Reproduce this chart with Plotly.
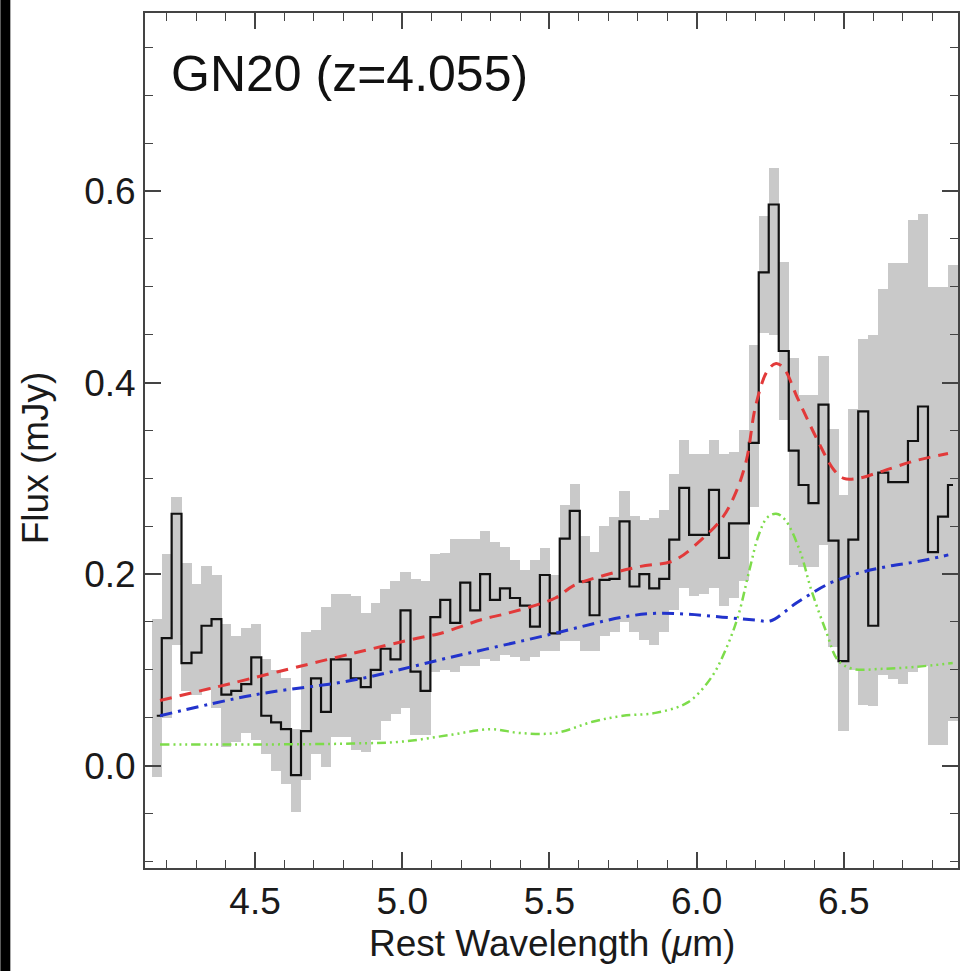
import plotly.graph_objects as go

# ---- data ----
wavelength = [4.166, 4.200, 4.233, 4.267, 4.301, 4.335, 4.369, 4.402, 4.436, 4.470,
              4.504, 4.538, 4.571, 4.605, 4.639, 4.673, 4.707, 4.741, 4.774, 4.808,
              4.842, 4.876, 4.910, 4.943, 4.977, 5.011, 5.045, 5.079, 5.112, 5.146,
              5.180, 5.214, 5.248, 5.281, 5.315, 5.349, 5.383, 5.417, 5.451, 5.484,
              5.518, 5.552, 5.586, 5.620, 5.653, 5.687, 5.721, 5.755, 5.789, 5.822,
              5.856, 5.890, 5.924, 5.958, 5.991, 6.025, 6.059, 6.093, 6.127, 6.161,
              6.194, 6.228, 6.262, 6.296, 6.330, 6.363, 6.397, 6.431, 6.465, 6.499,
              6.532, 6.566, 6.600, 6.634, 6.668, 6.701, 6.735, 6.769, 6.803, 6.837,
              6.871]

flux = [0.052, 0.133, 0.263, 0.107, 0.118, 0.146, 0.153, 0.074, 0.078, 0.085,
        0.113, 0.052, 0.045, 0.038, -0.010, 0.036, 0.091, 0.056, 0.111, 0.111,
        0.091, 0.082, 0.100, 0.122, 0.111, 0.162, 0.098, 0.078, 0.155, 0.173,
        0.149, 0.191, 0.162, 0.200, 0.173, 0.185, 0.175, 0.167, 0.145, 0.199,
        0.138, 0.237, 0.266, 0.192, 0.157, 0.194, 0.195, 0.255, 0.187, 0.200,
        0.185, 0.195, 0.236, 0.290, 0.241, 0.241, 0.288, 0.217, 0.253, 0.253,
        0.337, 0.515, 0.586, 0.433, 0.329, 0.293, 0.274, 0.377, 0.235, 0.109,
        0.236, 0.370, 0.146, 0.306, 0.296, 0.296, 0.339, 0.375, 0.223, 0.260,
        0.293]

band_hi = [0.153, 0.221, 0.281, 0.212, 0.190, 0.208, 0.199, 0.148, 0.135, 0.144,
           0.148, 0.111, 0.100, 0.091, 0.038, 0.140, 0.142, 0.166, 0.179, 0.179,
           0.177, 0.159, 0.170, 0.184, 0.193, 0.202, 0.195, 0.193, 0.221, 0.222,
           0.237, 0.237, 0.237, 0.245, 0.234, 0.228, 0.215, 0.204, 0.215, 0.227,
           0.199, 0.272, 0.294, 0.240, 0.223, 0.250, 0.260, 0.287, 0.261, 0.256,
           0.259, 0.267, 0.305, 0.340, 0.325, 0.325, 0.340, 0.325, 0.327, 0.350,
           0.439, 0.574, 0.624, 0.526, 0.426, 0.387, 0.387, 0.428, 0.351, 0.283,
           0.372, 0.446, 0.450, 0.498, 0.525, 0.525, 0.570, 0.576, 0.500, 0.500,
           0.523]

band_lo = [-0.012, 0.050, 0.126, 0.078, 0.074, 0.080, 0.060, 0.019, 0.025, 0.034,
           0.027, 0.012, -0.006, -0.019, -0.048, -0.015, 0.012, -0.001, 0.030, 0.030,
           0.016, 0.014, 0.027, 0.047, 0.054, 0.060, 0.032, 0.032, 0.098, 0.100,
           0.098, 0.104, 0.104, 0.111, 0.109, 0.115, 0.113, 0.109, 0.113, 0.120,
           0.120, 0.130, 0.130, 0.120, 0.120, 0.135, 0.140, 0.150, 0.140, 0.131,
           0.126, 0.140, 0.162, 0.185, 0.177, 0.179, 0.185, 0.167, 0.175, 0.193,
           0.270, 0.452, 0.450, 0.361, 0.209, 0.207, 0.207, 0.230, 0.124, 0.036,
           0.100, 0.063, 0.062, 0.095, 0.090, 0.085, 0.098, 0.104, 0.021, 0.021,
           0.047]

model_x = [4.177, 4.300, 4.408, 4.578, 4.830, 5.051, 5.129, 5.276, 5.357, 5.520,
           5.582, 5.690, 5.810, 5.922, 6.020, 6.088, 6.133, 6.170, 6.200, 6.240,
           6.270, 6.296, 6.344, 6.412, 6.466, 6.500, 6.548, 6.626, 6.738, 6.854]
model_total = [0.068, 0.077, 0.085, 0.098, 0.117, 0.133, 0.138, 0.153, 0.159, 0.175,
               0.188, 0.199, 0.208, 0.214, 0.237, 0.259, 0.285, 0.320, 0.375, 0.412,
               0.420, 0.415, 0.383, 0.339, 0.309, 0.300, 0.300, 0.307, 0.318, 0.326]

cont_x = [4.177, 4.500, 4.830, 5.163, 5.503, 5.748, 5.861, 5.973, 6.088, 6.200,
          6.250, 6.340, 6.450, 6.550, 6.650, 6.750, 6.855]
continuum = [0.052, 0.074, 0.089, 0.113, 0.137, 0.155, 0.159, 0.158, 0.155, 0.152,
             0.151, 0.170, 0.190, 0.201, 0.208, 0.213, 0.220]

pah_x = [4.177, 4.500, 4.830, 5.000, 5.163, 5.300, 5.400, 5.520, 5.650, 5.750,
         5.860, 5.970, 6.050, 6.100, 6.140, 6.180, 6.210, 6.240, 6.270, 6.300,
         6.350, 6.390, 6.440, 6.480, 6.530, 6.630, 6.740, 6.870]
pah = [0.022, 0.022, 0.023, 0.025, 0.032, 0.038, 0.034, 0.034, 0.046, 0.052,
       0.055, 0.066, 0.092, 0.122, 0.155, 0.205, 0.240, 0.259, 0.263, 0.257,
       0.225, 0.183, 0.140, 0.110, 0.101, 0.101, 0.103, 0.107]

x_ticks = [4.5, 5.0, 5.5, 6.0, 6.5]
y_ticks = [0.0, 0.2, 0.4, 0.6]
title_text = "GN20 (z=4.055)"
x_label = "Rest Wavelength (<i>μ</i>m)"
y_label = "Flux (mJy)"

# ---- figure ----
FONT = "Liberation Sans, Arial, Helvetica, sans-serif"
bar_w = 0.0346

fig = go.Figure()
fig.add_trace(go.Bar(
    x=wavelength, base=band_lo, y=[h - l for h, l in zip(band_hi, band_lo)],
    width=bar_w, marker=dict(color="#c9c9c9", line=dict(width=0)),
    showlegend=False, hoverinfo="skip"))
fig.add_trace(go.Scatter(
    x=wavelength, y=flux, mode="lines", line=dict(color="#111111", width=2.2, shape="hvh"),
    showlegend=False))
fig.add_trace(go.Scatter(
    x=pah_x, y=pah, mode="lines", line=dict(color="#7ddc4a", width=2.5, shape="spline",
                                             dash="9px,4px,2px,4px,2px,4px,2px,4px"),
    showlegend=False))
fig.add_trace(go.Scatter(
    x=cont_x, y=continuum, mode="lines", line=dict(color="#2233cc", width=3, shape="spline",
                                                   dash="12px,6px,3px,6px"),
    showlegend=False))
fig.add_trace(go.Scatter(
    x=model_x, y=model_total, mode="lines", line=dict(color="#e23a3a", width=3, shape="spline",
                                                      dash="12px,8px"),
    showlegend=False))

axis_common = dict(
    showline=True, linecolor="#444444", linewidth=2, mirror="ticks",
    ticks="inside", ticklen=16, tickwidth=1.5, tickcolor="#444444",
    showgrid=False, zeroline=False,
    tickfont=dict(family=FONT, size=37, color="#1a1a1a"),
)

fig.update_xaxes(range=[4.126, 6.888], tickvals=x_ticks, ticktext=[f"{v:.1f}" for v in x_ticks],
                 minor=dict(ticks="inside", ticklen=8, tickwidth=1.3, tickcolor="#444444", dtick=0.1, tick0=4.5),
                 **axis_common)
fig.update_yaxes(range=[-0.107, 0.786], tickvals=y_ticks, ticktext=[f"{v:.1f}" for v in y_ticks],
                 minor=dict(ticks="inside", ticklen=8, tickwidth=1.3, tickcolor="#444444", dtick=0.05, tick0=0),
                 **axis_common)

W, H = 963, 971
L, R, T, B = 145, 3, 13, 103
pw, ph = W - L - R, H - T - B

fig.update_layout(
    width=W, height=H, margin=dict(l=L, r=R, t=T, b=B),
    paper_bgcolor="white", plot_bgcolor="white", barmode="overlay", bargap=0,
    showlegend=False,
    annotations=[
        dict(text=title_text, x=(169 - L) / pw, y=1 - (74 - T) / ph, xref="paper", yref="paper",
             xanchor="left", yanchor="middle", showarrow=False,
             font=dict(family=FONT, size=50, color="#111111")),
        dict(text=x_label, x=(553 - L) / pw, y=-(943 - (H - B)) / ph, xref="paper", yref="paper",
             xanchor="center", yanchor="middle", showarrow=False,
             font=dict(family=FONT, size=37, color="#1a1a1a")),
        dict(text=y_label, x=(35 - L) / pw, y=1 - (458 - T) / ph, xref="paper", yref="paper",
             xanchor="center", yanchor="middle", showarrow=False, textangle=-90,
             font=dict(family=FONT, size=37, color="#1a1a1a")),
    ],
    shapes=[dict(type="rect", xref="paper", yref="paper",
                 x0=-L / pw, x1=(10 - L) / pw, y0=-B / ph, y1=1 + T / ph,
                 fillcolor="black", line=dict(width=0), layer="above")],
)

fig.write_html("out.html")
